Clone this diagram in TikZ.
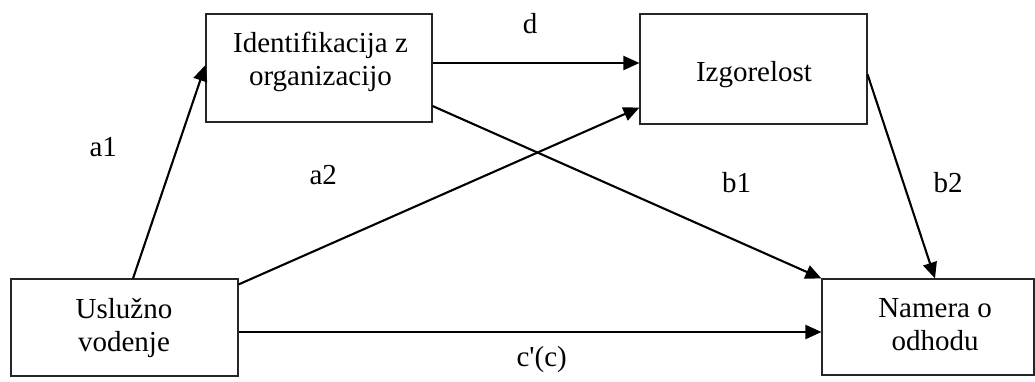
\documentclass[tikz,border=0pt]{standalone}
\usepackage{fontspec}
\setmainfont{Liberation Serif}[Ligatures=TeXOff]
\usetikzlibrary{arrows.meta,calc}
\begin{document}
\begin{tikzpicture}[x=1pt,y=-1pt,
  box/.style={draw=black!85, line width=1.1pt, rectangle, inner sep=0pt},
  txt/.style={font=\fontsize{29}{33}\selectfont, inner sep=0pt, align=center, anchor=north},
  lbl/.style={font=\fontsize{29}{33}\selectfont, inner sep=0pt, anchor=base},
  conn/.style={line width=2.1pt, -{Triangle[length=16pt,width=14pt]}}]
\useasboundingbox (0,0) rectangle (1035,381);
% boxes
\node[box, minimum width=227pt, minimum height=97pt] (uslu) at (124.5,327.5) {};
\node[box, minimum width=226pt, minimum height=108pt] (ident) at (319,68) {};
\node[box, minimum width=227pt, minimum height=110pt] (izgo) at (753.5,69) {};
\node[box, minimum width=212pt, minimum height=96pt] (namera) at (928,327) {};
% box texts
\node[txt] (uslu-t) at (124,294.9) {\strut Uslužno\\\strut vodenje};
\node[txt] (ident-t) at (320.5,29.2) {\strut Identifikacija z\\\strut organizacijo};
\node[txt] (izgo-t) at (754,57.9) {\strut Izgorelost};
\node[txt] (namera-t) at (935,294.2) {\strut Namera o\\\strut odhodu};
% connectors
\draw[conn] ($(uslu.north)+(8.5,0)$) -- ($(ident.west)+(0,-3)$);
\draw[conn] ($(ident.east)+(0,-5)$) -- ($(izgo.west)+(0,-6)$);
\draw[conn] ($(ident.east)+(0,38)$) -- (namera.north west);
\draw[conn] ($(uslu.north east)+(0,6)$) -- ($(izgo.south west)+(0,-17)$);
\draw[conn] ($(izgo.north east)+(0,61)$) -- ($(namera.north)+(7,0)$);
\draw[conn] ($(uslu.east)+(0,4.5)$) -- ($(namera.west)+(0,5)$);
% labels
\node[lbl] (la1) at (103.3,156.7) {a1};
\node[lbl] (la2) at (323.3,184.3) {a2};
\node[lbl] (lb1) at (736.7,192.7) {b1};
\node[lbl] (lb2) at (948,192.7) {b2};
\node[lbl] (ld) at (530,33.3) {d};
\node[lbl] (lc) at (541.7,366) {c'(c)};
\end{tikzpicture}
\end{document}
